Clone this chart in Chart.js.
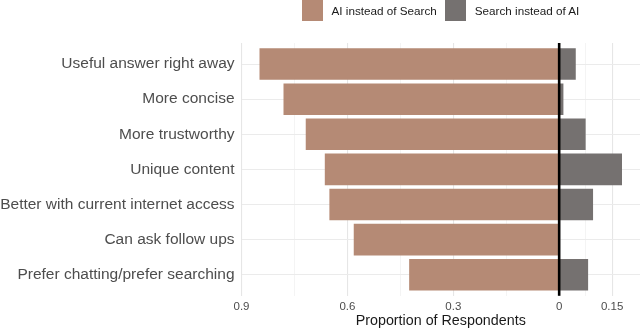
<!DOCTYPE html>
<html>
<head>
<meta charset="utf-8">
<script src="https://cdn.jsdelivr.net/npm/chart.js@4/dist/chart.umd.min.js"></script>
<style>
  html, body { margin: 0; padding: 0; background: #ffffff; }
  #wrap { position: relative; width: 640px; height: 331px; overflow: hidden; }
  #legend { position: absolute; top: 0; left: 302px; height: 21px; display: flex; align-items: center;
            font-family: "Liberation Sans", Arial, sans-serif; font-size: 11.7px; color: #1a1a1a; }
  .key { width: 21px; height: 21px; display: inline-block; }
  .lab { display: inline-block; margin-left: 8.5px; margin-right: 8.5px; }
</style>
</head>
<body>
<div id="wrap">
  <canvas id="c" width="640" height="331"></canvas>
  <div id="legend"></div>
</div>
<script>
// ---- data ----
const categories = [
  "Useful answer right away",
  "More concise",
  "More trustworthy",
  "Unique content",
  "Better with current internet access",
  "Can ask follow ups",
  "Prefer chatting/prefer searching"
];
const aiInsteadOfSearch = [0.849, 0.781, 0.718, 0.664, 0.651, 0.582, 0.425];
const searchInsteadOfAI = [0.047, 0.012, 0.075, 0.178, 0.096, 0.0, 0.082];
const seriesNames = ["AI instead of Search", "Search instead of AI"];
const xMajorTicks = [-0.9, -0.6, -0.3, 0, 0.15];
const xMinorTicks = [-0.75, -0.45, -0.15, 0.075];

const colors = ["#b58a75", "#757170"];

// HTML legend
const legend = document.getElementById('legend');
seriesNames.forEach((n, i) => {
  const k = document.createElement('span'); k.className = 'key'; k.style.background = colors[i];
  const t = document.createElement('span'); t.className = 'lab'; t.textContent = n;
  legend.appendChild(k); legend.appendChild(t);
});

Chart.defaults.font.family = '"Liberation Sans", Arial, sans-serif';

const zeroLine = {
  id: 'zeroLine',
  afterDatasetsDraw(chart) {
    const x = chart.scales.x.getPixelForValue(0);
    const ctx = chart.ctx;
    ctx.save();
    ctx.strokeStyle = '#000000';
    ctx.lineWidth = 2.6;
    ctx.beginPath();
    ctx.moveTo(x, chart.chartArea.top);
    ctx.lineTo(x, chart.chartArea.bottom);
    ctx.stroke();
    ctx.restore();
  }
};

new Chart(document.getElementById('c'), {
  type: 'bar',
  data: {
    datasets: [
      {
        label: seriesNames[0],
        data: aiInsteadOfSearch.map((v, i) => ({ x: -v, y: i + 1 })),
        backgroundColor: colors[0],
        borderWidth: 0
      },
      {
        label: seriesNames[1],
        data: searchInsteadOfAI.map((v, i) => ({ x: v, y: i + 1 })),
        backgroundColor: colors[1],
        borderWidth: 0
      }
    ]
  },
  options: {
    indexAxis: 'y',
    responsive: false,
    animation: false,
    devicePixelRatio: 1,
    grouped: false,
    categoryPercentage: 1,
    barPercentage: 0.9,
    layout: { padding: { top: 43, left: 0, right: 0, bottom: 0 } },
    plugins: { legend: { display: false }, tooltip: { enabled: false } },
    scales: {
      x: {
        type: 'linear',
        min: -0.9,
        max: 0.229,
        afterBuildTicks: (s) => {
          s.ticks = xMajorTicks.concat(xMinorTicks).sort((a, b) => a - b).map(v => ({ value: v }));
        },
        afterFit: (s) => { s.height = 35.2; },
        border: { display: false },
        grid: {
          drawTicks: false,
          color: (ctx) => (ctx.tick && xMajorTicks.includes(ctx.tick.value)) ? '#e6e6e6' : '#efefef',
          lineWidth: (ctx) => (ctx.tick && xMajorTicks.includes(ctx.tick.value)) ? 1.1 : 0.7
        },
        ticks: {
          autoSkip: false,
          maxRotation: 0,
          padding: 4,
          color: '#4d4d4d',
          font: { size: 11.5 },
          callback: (v) => xMajorTicks.includes(v) ? String(Math.abs(v)) : ''
        },
        title: {
          display: true,
          text: 'Proportion of Respondents',
          color: '#1a1a1a',
          font: { size: 14.3 },
          padding: { top: 0, bottom: 1 }
        }
      },
      y: {
        type: 'linear',
        reverse: true,
        offset: false,
        min: 0.4,
        max: 7.6,
        afterBuildTicks: (s) => { s.ticks = categories.map((c, i) => ({ value: i + 1 })); },
        afterFit: (s) => { s.width = 241.5; },
        border: { display: false },
        grid: { drawTicks: false, offset: false, color: '#ebebeb', lineWidth: 1.1 },
        ticks: {
          autoSkip: false,
          padding: 7,
          color: '#4d4d4d',
          font: { size: 15.5 },
          callback: (v) => categories[v - 1] || ''
        }
      }
    }
  },
  plugins: [zeroLine]
});
</script>
</body>
</html>
